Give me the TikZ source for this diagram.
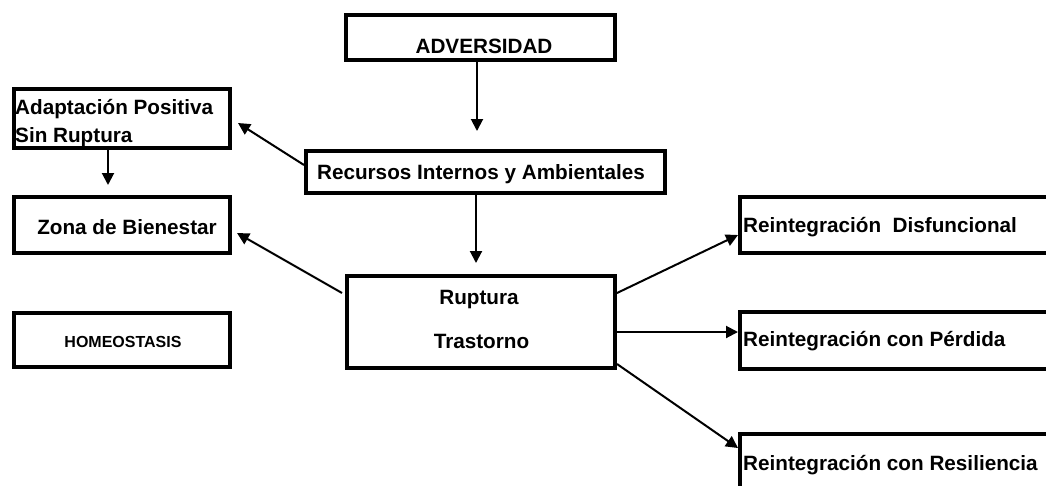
\documentclass[tikz,border=0pt]{standalone}
\usepackage{fontspec}
\setmainfont{Liberation Sans}
\usetikzlibrary{arrows.meta}
\begin{document}
\begin{tikzpicture}[x=1pt,y=-1pt,
  box/.style={draw, line width=4pt, rectangle, inner sep=0pt},
  txt/.style={inner sep=0pt, font=\fontsize{20.7}{24}\selectfont\bfseries, anchor=base},
  arr/.style={line width=2pt, -{Triangle[length=12pt,width=12pt]}},
  ln/.style={line width=2pt}]
\clip (0,0) rectangle (1046,485);
\fill[white] (0,0) rectangle (1046,485);
% boxes
\node[box, minimum width=269pt, minimum height=45pt] (adv) at (480.5,37.5) {};
\node[box, minimum width=359pt, minimum height=42pt] (rec) at (485.5,172) {};
\node[box, minimum width=268pt, minimum height=92pt] (rup) at (481,322) {};
\node[box, minimum width=216pt, minimum height=59pt] (adap) at (122,118.5) {};
\node[box, minimum width=216pt, minimum height=56pt] (zona) at (122,225) {};
\node[box, minimum width=216pt, minimum height=54pt] (homeo) at (122,340) {};
\node[box, minimum width=330pt, minimum height=56pt] (dis) at (905,225) {};
\node[box, minimum width=330pt, minimum height=57pt] (per) at (905,340.5) {};
\node[box, minimum width=330pt, minimum height=76pt] (res) at (905,472) {};
% texts
\node[txt] (advT) at (484,53) {ADVERSIDAD};
\node[txt] (recT) at (481,179) {Recursos Internos y Ambientales};
\node[txt] (rupT1) at (479,304) {Ruptura};
\node[txt] (rupT2) at (481.5,348) {Trastorno};
\node[txt, anchor=base west] (adapT1) at (15,114) {Adaptación Positiva};
\node[txt, anchor=base west] (adapT2) at (15,142.5) {Sin Ruptura};
\node[txt] (zonaT) at (127,234) {Zona de Bienestar};
\node[txt, font=\fontsize{16}{19}\selectfont\bfseries] (homeoT) at (123,347) {HOMEOSTASIS};
\node[txt, anchor=base west] (disT) at (743,232) {Reintegración\ \ Disfuncional};
\node[txt, anchor=base west] (perT) at (743,346) {Reintegración con Pérdida};
\node[txt, anchor=base west] (resT) at (743,470) {Reintegración con Resiliencia};
% connectors
\draw[arr, shorten >=18pt] ([xshift=-3.5pt]adv.south) -- ([xshift=-3.5pt]adv.south |- rec.north);
\draw[arr, shorten >=11pt] ([xshift=-9.5pt]rec.south) -- ([xshift=-9.5pt]rec.south |- rup.north);
\draw[arr, shorten >=10pt] ([xshift=-14pt]adap.south) -- ([xshift=-14pt]adap.south |- zona.north);
\draw[arr] ([yshift=7pt]rec.west) -- ([xshift=6pt,yshift=-4.5pt]adap.east);
\draw[arr] ([xshift=-3pt,yshift=29pt]rup.west) -- ([xshift=5pt,yshift=-8pt]zona.east);
\draw[arr] ([yshift=29pt]rup.east) -- ([yshift=-10pt]dis.west);
\draw[arr] ([yshift=-10pt]rup.east) -- ([yshift=8.5pt]per.west);
\draw[arr] ([yshift=-42pt]rup.east) -- ([yshift=24pt]res.west);
\end{tikzpicture}
\end{document}
